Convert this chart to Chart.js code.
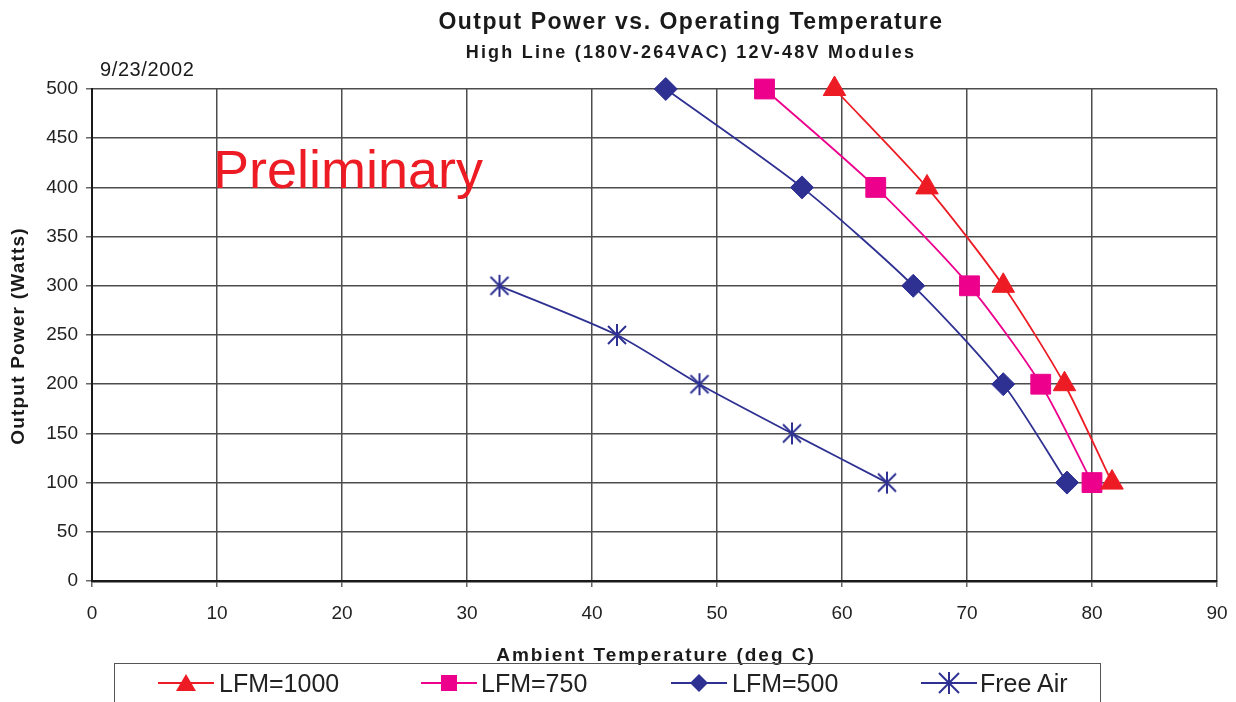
<!DOCTYPE html>
<html>
<head>
<meta charset="utf-8">
<script src="https://cdn.jsdelivr.net/npm/chart.js@4.4.1/dist/chart.umd.min.js"></script>
<style>
  html, body { margin: 0; padding: 0; background: #fff; }
  #wrap { position: relative; width: 1236px; height: 702px; overflow: hidden; font-family: "Liberation Sans", Arial, sans-serif; color: #1a1a1a; }
  #chart { position: absolute; left: 0; top: 0; }
  .txt { position: absolute; white-space: nowrap; }
  .title { left: 391px; width: 600px; text-align: center; font-weight: bold; }
  #legend { position: absolute; left: 114px; top: 663px; width: 987px; height: 60px; border: 1.5px solid #555; box-sizing: border-box; }
  .lg-item { position: absolute; top: 0; height: 38px; }
  .lg-item svg { position: absolute; top: 7px; }
  .lg-item span { position: absolute; top: 0; line-height: 38px; font-size: 25px; color: #222; }
</style>
</head>
<body>
<div id="wrap">
  <canvas id="chart" width="1236" height="702"></canvas>
  <div class="txt title" style="top:6px;height:30px;line-height:30px;font-size:23px;letter-spacing:1.5px;">Output Power vs. Operating Temperature</div>
  <div class="txt title" style="top:40px;height:24px;line-height:24px;font-size:18px;letter-spacing:2.2px;">High Line (180V-264VAC) 12V-48V Modules</div>
  <div class="txt" style="left:100px;top:57px;height:24px;line-height:24px;font-size:20px;letter-spacing:0.6px;">9/23/2002</div>
  <div class="txt" style="left:213px;top:142px;height:54px;line-height:54px;font-size:54px;color:#ed1c24;">Preliminary</div>
  <div class="txt" style="left:456px;top:643px;width:400px;height:24px;line-height:24px;text-align:center;font-size:19px;font-weight:bold;letter-spacing:2px;">Ambient Temperature (deg C)</div>
  <div class="txt" style="left:-182px;top:324px;width:400px;height:24px;line-height:24px;text-align:center;font-size:19px;font-weight:bold;letter-spacing:1.2px;transform:rotate(-90deg);">Output Power (Watts)</div>
  <div id="legend"></div>
</div>
<script>
// ── DATA ──
const seriesNames = ['LFM=1000', 'LFM=750', 'LFM=500', 'Free Air'];
const powerSteps = [500, 400, 300, 200, 100];
const lfm1000Temp = [59.4, 66.8, 72.9, 77.8, 81.6];
const lfm750Temp = [53.8, 62.7, 70.2, 75.9, 80.0];
const lfm500Temp = [45.9, 56.8, 65.7, 72.9, 78.0];
const freeAirPower = [300, 250, 200, 150, 100];
const freeAirTemp = [32.6, 42.0, 48.6, 56.0, 63.6];

const RED = '#ed1c24';
const MAGENTA = '#ec008c';
const NAVY = '#2e3192';

function pairs(xs, ys) {
  return xs.map((x, i) => ({ x: x, y: ys[i] }));
}

// asterisk marker (vertical + two diagonals)
function makeStar(color) {
  const c = document.createElement('canvas');
  c.width = 24; c.height = 26;
  const g = c.getContext('2d');
  g.strokeStyle = color;
  g.lineWidth = 2;
  g.beginPath();
  g.moveTo(12, 2); g.lineTo(12, 24);
  g.moveTo(3, 4); g.lineTo(21, 22);
  g.moveTo(21, 4); g.lineTo(3, 22);
  g.stroke();
  return c;
}

const starMarker = makeStar(NAVY);

const common = { showLine: true, borderWidth: 1.8, tension: 0.25, clip: false, pointBorderWidth: 1 };

const datasets = [
  Object.assign({
    label: seriesNames[0], data: pairs(lfm1000Temp, powerSteps),
    borderColor: RED, backgroundColor: RED, pointStyle: 'triangle', pointRadius: 13
  }, common),
  Object.assign({
    label: seriesNames[1], data: pairs(lfm750Temp, powerSteps),
    borderColor: MAGENTA, backgroundColor: MAGENTA, pointStyle: 'rect', pointRadius: 14
  }, common),
  Object.assign({
    label: seriesNames[2], data: pairs(lfm500Temp, powerSteps),
    borderColor: NAVY, backgroundColor: NAVY, pointStyle: 'rectRot', pointRadius: 11.5
  }, common),
  Object.assign({
    label: seriesNames[3], data: pairs(freeAirTemp, freeAirPower),
    borderColor: NAVY, backgroundColor: NAVY, pointStyle: starMarker, pointRadius: 12
  }, common),
];

new Chart(document.getElementById('chart'), {
  type: 'scatter',
  data: { datasets: datasets },
  options: {
    responsive: false,
    animation: false,
    events: [],
    layout: { padding: { top: 89, right: 19, left: 0, bottom: 0 } },
    plugins: { legend: { display: false }, tooltip: { enabled: false } },
    scales: {
      x: {
        type: 'linear', min: 0, max: 90,
        afterFit: (s) => { s.height = 121; s.paddingLeft = 0; s.paddingRight = 0; },
        ticks: { stepSize: 10, padding: 15, color: '#222', font: { family: 'Liberation Sans', size: 19 } },
        grid: { color: '#4d4d4d', lineWidth: 1.5, tickLength: 6, tickColor: '#666' },
        border: { color: '#1a1a1a', width: 2.5 }
      },
      y: {
        type: 'linear', min: 0, max: 500,
        afterFit: (s) => { s.width = 92; s.paddingTop = 0; s.paddingBottom = 0; },
        ticks: { stepSize: 50, padding: 8, color: '#222', font: { family: 'Liberation Sans', size: 19 } },
        grid: { color: '#4d4d4d', lineWidth: 1.5, tickLength: 6, tickColor: '#666' },
        border: { color: '#1a1a1a', width: 2 }
      }
    }
  }
});

// ── LEGEND ──
const legendPos = [
  { line: 157, text: 218, color: RED, mark: 'tri' },
  { line: 420, text: 480, color: MAGENTA, mark: 'sq' },
  { line: 670, text: 731, color: NAVY, mark: 'dia' },
  { line: 920, text: 979, color: NAVY, mark: 'star' },
];

function markerSvg(kind, color) {
  const line = `<line x1="0" y1="12" x2="56" y2="12" stroke="${color}" stroke-width="2"/>`;
  let m = '';
  if (kind === 'tri') m = `<polygon points="28,3 38,20 18,20" fill="${color}"/>`;
  if (kind === 'sq') m = `<rect x="20" y="4" width="16" height="16" fill="${color}"/>`;
  if (kind === 'dia') m = `<polygon points="28,3 37,12 28,21 19,12" fill="${color}"/>`;
  if (kind === 'star') m = `<g stroke="${color}" stroke-width="2"><line x1="28" y1="1" x2="28" y2="23"/><line x1="18" y1="2" x2="38" y2="22"/><line x1="38" y1="2" x2="18" y2="22"/></g>`;
  return `<svg width="56" height="24">${line}${m}</svg>`;
}

const legendEl = document.getElementById('legend');
legendEl.innerHTML = seriesNames.map((name, i) => {
  const p = legendPos[i];
  return `<div class="lg-item" style="left:${p.line - 114}px;width:${p.text - p.line + 130}px">` +
    markerSvg(p.mark, p.color) +
    `<span style="left:${p.text - p.line}px">${name}</span></div>`;
}).join('');
</script>
</body>
</html>
